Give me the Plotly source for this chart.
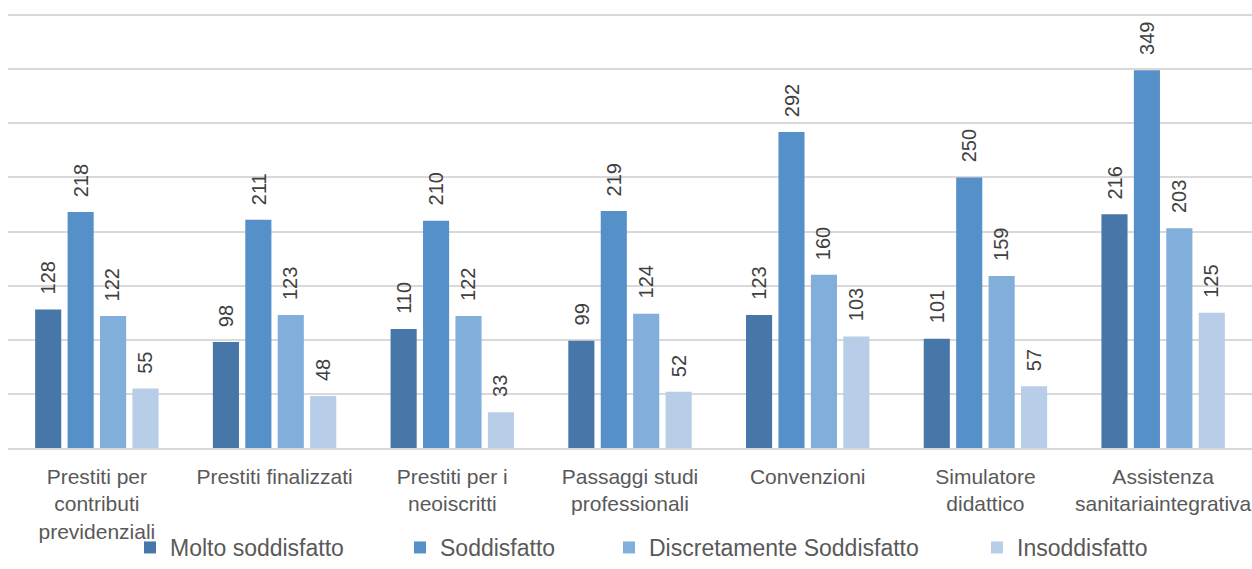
import plotly.graph_objects as go

categories = [
    "Prestiti per<br>contributi<br>previdenziali",
    "Prestiti finalizzati",
    "Prestiti per i<br>neoiscritti",
    "Passaggi studi<br>professionali",
    "Convenzioni",
    "Simulatore<br>didattico",
    "Assistenza<br>sanitariaintegrativa",
]
series_names = ["Molto soddisfatto", "Soddisfatto", "Discretamente Soddisfatto", "Insoddisfatto"]
molto = [128, 98, 110, 99, 123, 101, 216]
soddisfatto = [218, 211, 210, 219, 292, 250, 349]
discretamente = [122, 123, 122, 124, 160, 159, 203]
insoddisfatto = [55, 48, 33, 52, 103, 57, 125]
colors = ["#4677A8", "#5591C8", "#82AEDC", "#B7CDE8"]

all_series = [molto, soddisfatto, discretamente, insoddisfatto]
xshifts = [-48.4, -16.1, 16.1, 48.4]
legend_ids = ["legend", "legend2", "legend3", "legend4"]
legend_left_px = [130, 400, 609, 977]

fig = go.Figure()
annotations = []
for name, vals, col, xs, lid in zip(series_names, all_series, colors, xshifts, legend_ids):
    fig.add_trace(go.Bar(
        name=name, x=categories, y=vals, legend=lid, showlegend=True,
        marker=dict(color=col, line=dict(width=0)),
    ))
    for c, v in zip(categories, vals):
        annotations.append(dict(
            x=c, y=v, xref="x", yref="y", text=str(v), showarrow=False,
            textangle=-90, xanchor="center", yanchor="bottom",
            xshift=xs, yshift=13,
            font=dict(family="Liberation Sans, Arial", size=20, color="#404040"),
        ))

legend_common = dict(orientation="h", xref="container", xanchor="left",
                     yref="container", y=-6 / 569, yanchor="bottom",
                     font=dict(size=23, color="#595959"), itemwidth=30,
                     bgcolor="rgba(0,0,0,0)")
legends = {lid: dict(legend_common, x=px / 1252) for lid, px in zip(legend_ids, legend_left_px)}

fig.update_layout(
    width=1252, height=569,
    margin=dict(l=8, r=0, t=13, b=121),
    plot_bgcolor="white", paper_bgcolor="white",
    showlegend=True,
    barmode="group", bargap=0.27, bargroupgap=0.195,
    font=dict(family="Liberation Sans, Arial", color="#595959"),
    xaxis=dict(showgrid=False, showline=True, linecolor="#d9d9d9", linewidth=1.5,
               ticks="outside", ticklen=9, tickcolor="rgba(0,0,0,0)",
               tickfont=dict(size=21, color="#595959"), automargin=False),
    yaxis=dict(range=[0, 402], tickvals=[50, 100, 150, 200, 250, 300, 350, 400],
               showgrid=True, gridcolor="#d9d9d9", gridwidth=1.5,
               showticklabels=False, zeroline=False, automargin=False),
    annotations=annotations,
    **legends,
)
fig.write_html("out.html", post_script="document.body.style.margin='0';",
               config={"displayModeBar": False})
